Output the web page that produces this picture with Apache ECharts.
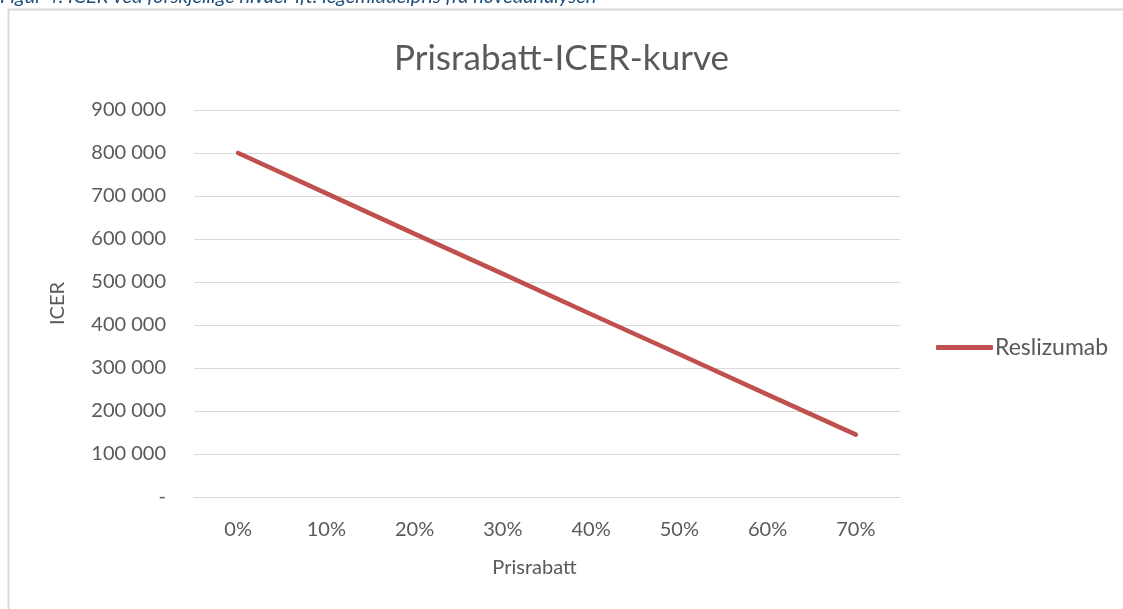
<!DOCTYPE html>
<html>
<head>
<meta charset="utf-8">
<script src="https://cdn.jsdelivr.net/npm/echarts@6/dist/echarts.min.js"></script>
<style>
  html, body { margin: 0; padding: 0; background: #fff; }
  #chart { width: 1123px; height: 609px; }
</style>
</head>
<body>
<div id="chart"></div>
<script>
// data
const categories = ['0%', '10%', '20%', '30%', '40%', '50%', '60%', '70%'];
const reslizumab = [800000, 706000, 612000, 519000, 425000, 332000, 238000, 145000];
const seriesName = 'Reslizumab';

const FONT = 'Lato, "Open Sans", sans-serif';
const GREY = '#595959';

const chart = echarts.init(document.getElementById('chart'), null, { renderer: 'canvas' });

const fmt = v => v === 0 ? '-' : String(v).replace(/\B(?=(\d{3})+(?!\d))/g, ' ');

chart.setOption({
    backgroundColor: '#fff',
    animation: false,
    title: {
        text: 'Prisrabatt-ICER-kurve',
        left: 'center',
        top: 36,
        textStyle: { fontFamily: FONT, fontSize: 35, fontWeight: 'normal', color: GREY }
    },
    graphic: [
        {
            type: 'rect',
            shape: { x: 8.5, y: 9.5, width: 1130, height: 620 },
            style: { fill: 'none', stroke: '#d9d9d9', lineWidth: 2 },
            silent: true
        },
        {
            type: 'text',
            left: 0,
            top: -13,
            style: {
                text: 'Figur 4: ICER ved forskjellige nivåer ift. legemiddelpris fra hovedanalysen',
                font: 'italic 20px ' + FONT,
                fill: '#1f4e79'
            }
        }
    ],
    legend: {
        data: [seriesName],
        orient: 'vertical',
        left: 931,
        top: 331,
        icon: 'roundRect',
        itemWidth: 57,
        itemHeight: 5,
        itemGap: 0,
        textStyle: { fontFamily: FONT, fontSize: 23, color: GREY, padding: [0, 0, 0, -3] }
    },
    grid: { left: 194, right: 223, top: 110, bottom: 112, containLabel: false },
    xAxis: {
        type: 'category',
        data: categories,
        boundaryGap: true,
        name: 'Prisrabatt',
        nameLocation: 'middle',
        nameGap: 61,
        nameTextStyle: { fontFamily: FONT, fontSize: 20, color: GREY, padding: [0, 25, 0, 0] },
        axisLine: { show: true, lineStyle: { color: '#d9d9d9', width: 1 } },
        axisTick: { show: false },
        axisLabel: { fontFamily: FONT, fontSize: 20, color: GREY, margin: 23 }
    },
    yAxis: {
        type: 'value',
        min: 0,
        max: 900000,
        interval: 100000,
        name: 'ICER',
        nameLocation: 'middle',
        nameRotate: 90,
        nameGap: 126,
        nameTextStyle: { fontFamily: FONT, fontSize: 20, color: GREY },
        axisLine: { show: false },
        axisTick: { show: false },
        splitLine: { lineStyle: { color: '#d9d9d9', width: 1 } },
        axisLabel: { fontFamily: FONT, fontSize: 20, color: GREY, margin: 28, formatter: fmt }
    },
    series: [
        {
            name: seriesName,
            type: 'line',
            data: reslizumab,
            symbol: 'none',
            lineStyle: { color: '#c0504d', width: 4.5, cap: 'round' },
            itemStyle: { color: '#c0504d' }
        }
    ]
});
</script>
</body>
</html>
